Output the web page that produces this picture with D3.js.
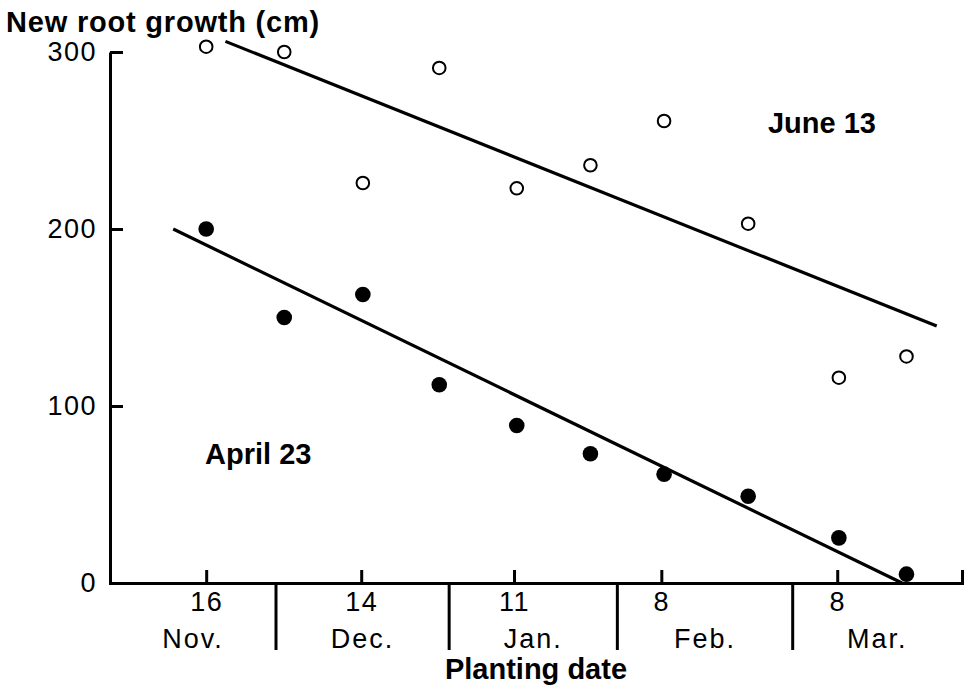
<!DOCTYPE html>
<html>
<head>
<meta charset="utf-8">
<script src="https://cdn.jsdelivr.net/npm/d3@7"></script>
<style>
  body { margin: 0; background: #fff; }
  text { font-family: 'Liberation Sans', Arial, Helvetica, sans-serif; fill: #000; }
</style>
</head>
<body>
<div id="chart"></div>
<script>
// planting positions along the axis (days after Nov 1, as drawn)
let plantDay = [17.5, 31.7, 46, 59.9, 74, 87.4, 100.8, 116.1, 132.6, 144.9]
let june13 = [303, 300, 226, 291, 223, 236, 261, 203, 116, 128]
let april23 = [200, 150, 163, 112, 89, 73, 61.5, 49, 25.5, 5]

// fitted lines, start and end points
let juneFit = [[21, 306], [150.4, 145.2]]
let aprilFit = [[11.5, 200], [144.1, 0]]

let yTicks = [0, 100, 200, 300]
let xTickDays = [17.5, 45.7, 73.5, 100.3, 132.3]
let xTickLabels = ['16', '14', '11', '8', '8']
let monthBounds = [0, 30.2, 61.7, 92.3, 124.2, 155]
let months = ['Nov.', 'Dec.', 'Jan.', 'Feb.', 'Mar.']

let margin = { top: 52, left: 110, right: 6, bottom: 108 }
let height = 691 - margin.top - margin.bottom
let width = 968 - margin.left - margin.right

let svg = d3
  .select('#chart')
  .append('svg')
  .attr('width', 968)
  .attr('height', 691)

let g = svg.append('g').attr('transform', `translate(${margin.left},${margin.top})`)

let xPositionScale = d3.scaleLinear().domain([0, 155]).range([0, width])
let yPositionScale = d3.scaleLinear().domain([0, 300]).range([height, 0])

let line = d3
  .line()
  .x(d => xPositionScale(d[0]))
  .y(d => yPositionScale(d[1]))

// axes
let yAxis = d3
  .axisLeft(yPositionScale)
  .tickValues(yTicks)
  .tickSize(-13)
  .tickSizeOuter(0)
  .tickPadding(13)
g.append('g').attr('class', 'axis y-axis').call(yAxis)

let xAxis = d3
  .axisBottom(xPositionScale)
  .tickValues(xTickDays)
  .tickFormat((d, i) => xTickLabels[i])
  .tickSize(-13)
  .tickSizeOuter(-13)
  .tickPadding(9)
g.append('g')
  .attr('class', 'axis x-axis')
  .attr('transform', `translate(0,${height})`)
  .call(xAxis)

g.selectAll('.axis path, .axis line')
  .attr('stroke', '#000')
  .attr('stroke-width', 3)
g.selectAll('.axis text')
  .attr('font-size', 27)
  .attr('letter-spacing', 1.5)
  .attr('fill', '#000')

// month separators and names
g.selectAll('.month-sep')
  .data(monthBounds.slice(1, -1))
  .enter()
  .append('line')
  .attr('class', 'month-sep')
  .attr('x1', d => xPositionScale(d))
  .attr('x2', d => xPositionScale(d))
  .attr('y1', height)
  .attr('y2', height + 67)
  .attr('stroke', '#000')
  .attr('stroke-width', 3)

g.selectAll('.month')
  .data(months)
  .enter()
  .append('text')
  .attr('class', 'month')
  .attr('x', (d, i) => xPositionScale((monthBounds[i] + monthBounds[i + 1]) / 2))
  .attr('y', height + 65)
  .attr('text-anchor', 'middle')
  .attr('font-size', 27)
  .attr('letter-spacing', 2)
  .text(d => d)

// fitted lines
g.append('path')
  .datum(juneFit)
  .attr('d', line)
  .attr('fill', 'none')
  .attr('stroke', '#000')
  .attr('stroke-width', 3.2)

g.append('path')
  .datum(aprilFit)
  .attr('d', line)
  .attr('fill', 'none')
  .attr('stroke', '#000')
  .attr('stroke-width', 3.2)

// points
g.selectAll('.june')
  .data(june13)
  .enter()
  .append('circle')
  .attr('class', 'june')
  .attr('cx', (d, i) => xPositionScale(plantDay[i]))
  .attr('cy', d => yPositionScale(d))
  .attr('r', 6.3)
  .attr('fill', '#fff')
  .attr('stroke', '#000')
  .attr('stroke-width', 2)

g.selectAll('.april')
  .data(april23)
  .enter()
  .append('circle')
  .attr('class', 'april')
  .attr('cx', (d, i) => xPositionScale(plantDay[i]))
  .attr('cy', d => yPositionScale(d))
  .attr('r', 7.8)
  .attr('fill', '#000')

// labels
g.append('text')
  .attr('x', xPositionScale(119.7))
  .attr('y', yPositionScale(254))
  .attr('font-size', 29)
  .attr('font-weight', 'bold')
  .text('June 13')

g.append('text')
  .attr('x', xPositionScale(17.3))
  .attr('y', yPositionScale(67.5))
  .attr('font-size', 29)
  .attr('font-weight', 'bold')
  .text('April 23')

svg
  .append('text')
  .attr('x', 6)
  .attr('y', 32)
  .attr('font-size', 29)
  .attr('font-weight', 'bold')
  .attr('letter-spacing', 0.8)
  .text('New root growth (cm)')

svg
  .append('text')
  .attr('x', 536)
  .attr('y', 679)
  .attr('text-anchor', 'middle')
  .attr('font-size', 29)
  .attr('font-weight', 'bold')
  .text('Planting date')
</script>
</body>
</html>
